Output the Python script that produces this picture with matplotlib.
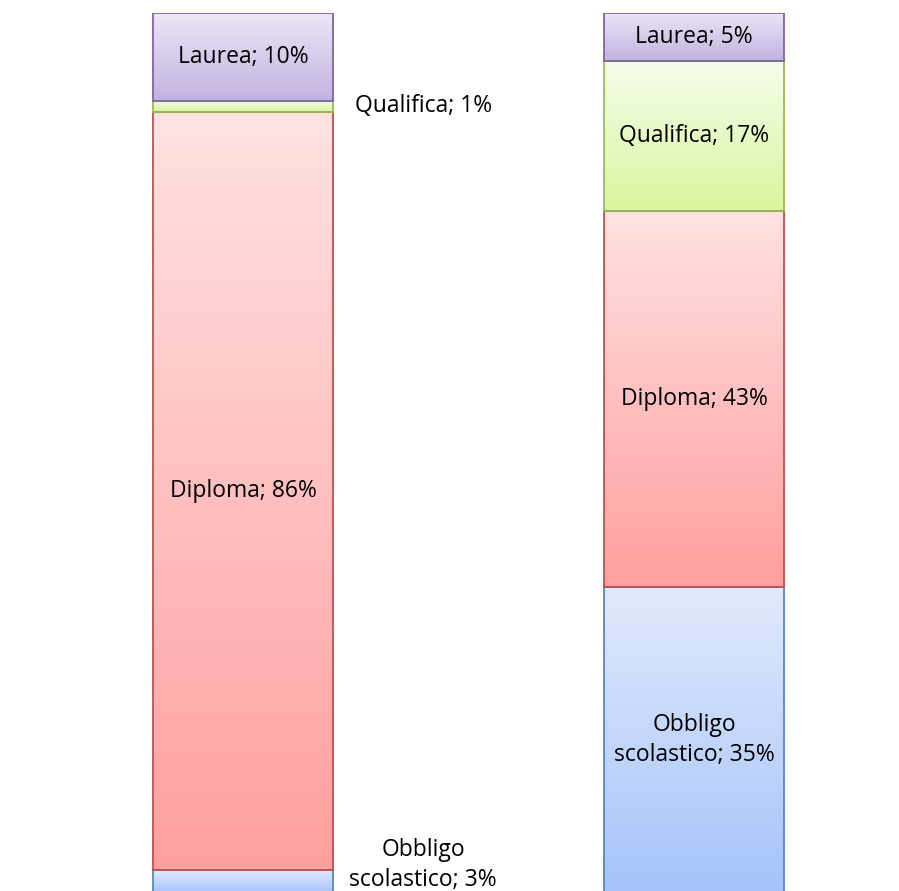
import numpy as np
import matplotlib
matplotlib.use("Agg")
import matplotlib.pyplot as plt
from matplotlib.colors import LinearSegmentedColormap

plt.rcParams['font.family'] = ['Open Sans', 'DejaVu Sans']

groups = ["A", "B"]
categories = ["Obbligo\nscolastico", "Diploma", "Qualifica", "Laurea"]
values = {
    "Obbligo\nscolastico": [2.6, 34.8],
    "Diploma": [86.1, 42.7],
    "Qualifica": [1.3, 17.0],
    "Laurea": [10.0, 5.5],
}
label_pct = {
    "Obbligo\nscolastico": [3, 35],
    "Diploma": [86, 43],
    "Qualifica": [1, 17],
    "Laurea": [10, 5],
}
grad_top = {"Obbligo\nscolastico": "#e1eafc", "Diploma": "#ffe2e2",
            "Qualifica": "#f5fdea", "Laurea": "#ece6f6"}
grad_bot = {"Obbligo\nscolastico": "#a5c3fa", "Diploma": "#ff9e9e",
            "Qualifica": "#d8f59e", "Laurea": "#c2b2e0"}
edges = {"Obbligo\nscolastico": "#5a86c0", "Diploma": "#c0504d",
         "Qualifica": "#9bbb59", "Laurea": "#8064a2"}

FS = 16.5
fig = plt.figure(figsize=(8.99, 8.91), dpi=100)
ax = fig.add_axes([0, -2/891, 1, 880/891])
ax.set_xlim(-243/451, 1 + 205/451)
ax.set_ylim(0, 100)
ax.axis("off")

x = np.arange(len(groups))
width = 180/451
bottom = np.zeros(len(groups))
for cat in categories:
    vals = np.array(values[cat])
    bars = ax.bar(x, vals, width, bottom=bottom, facecolor="none",
                  edgecolor=edges[cat], linewidth=1.3, zorder=3)
    cmap = LinearSegmentedColormap.from_list(cat, [grad_bot[cat], grad_top[cat]])
    grad = np.linspace(0, 1, 256).reshape(-1, 1)
    for i, b in enumerate(bars):
        x0, y0 = b.get_x(), b.get_y()
        w, h = b.get_width(), b.get_height()
        im = ax.imshow(grad, cmap=cmap, origin="lower", aspect="auto",
                       extent=(x0, x0 + w, y0, y0 + h), zorder=2)
        im.set_clip_path(b)
        label = f"{cat}; {label_pct[cat][i]}%"
        if i == 0 and cat == "Qualifica":
            ax.text(x0 + w + 0.2, y0 + h / 2 + 0.1, label,
                    ha="center", va="center", fontsize=FS, zorder=4)
        elif i == 0 and cat.startswith("Obbligo"):
            ax.text(x0 + w + 0.2, y0 + h / 2 + 1.9, label,
                    ha="center", va="center", fontsize=FS, zorder=4,
                    linespacing=1.35)
        else:
            ax.text(x0 + w / 2, y0 + h / 2, label,
                    ha="center", va="center", fontsize=FS, zorder=4,
                    linespacing=1.35)
    bottom += vals

fig.savefig("out.png", dpi=100)
